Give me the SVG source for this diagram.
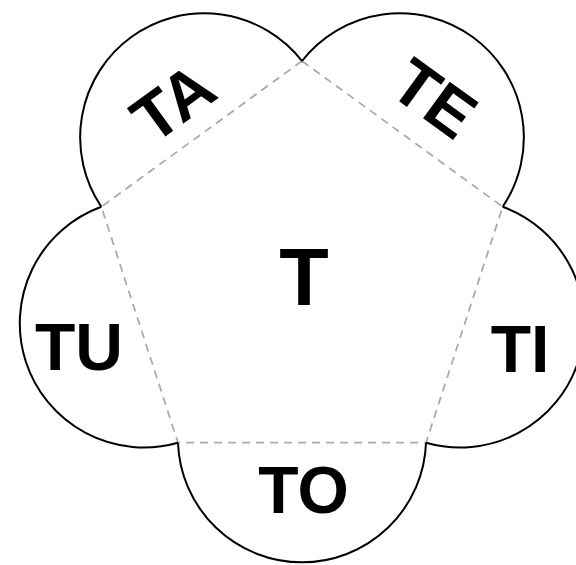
<svg xmlns="http://www.w3.org/2000/svg" width="576" height="565" viewBox="0 0 576 565">
<style>
.lobe{fill:none;stroke:#000;stroke-width:2}
.edge{fill:none;stroke:#a9a9a9;stroke-width:1.75;stroke-dasharray:8 6}
.lbl{font-family:"Liberation Sans",Arial,sans-serif;font-weight:bold;font-size:66px;fill:#000;text-anchor:middle}
</style>
<rect width="576" height="565" fill="#fff"/>
<g id="connectors">
<path class="edge" d="M302,61 L502.67,206.8 L426.02,442.7 L177.98,442.7 L101.33,206.8 Z"/>
</g>
<g id="node-T">
<text class="lbl" x="304" y="305" style="font-size:81px">T</text>
</g>
<g id="node-TE">
<path class="lobe" d="M302,61 A124.1,124.1 0 0 1 502.67,206.8"/>
<text class="lbl" transform="translate(435,97.5) rotate(36)" x="0" y="24">TE</text>
</g>
<g id="node-TI">
<path class="lobe" d="M502.67,206.8 A124.1,124.1 0 0 1 426.02,442.7"/>
<text class="lbl" x="520" y="371.5">TI</text>
</g>
<g id="node-TO">
<path class="lobe" d="M426.02,442.7 A124.1,124.1 0 0 1 177.98,442.7"/>
<text class="lbl" x="303.5" y="512.5">TO</text>
</g>
<g id="node-TU">
<path class="lobe" d="M177.98,442.7 A124.1,124.1 0 0 1 101.33,206.8"/>
<text class="lbl" x="79" y="369.5">TU</text>
</g>
<g id="node-TA">
<path class="lobe" d="M101.33,206.8 A124.1,124.1 0 0 1 302,61"/>
<text class="lbl" transform="translate(172.5,101.7) rotate(-36)" x="0" y="24">TA</text>
</g>
</svg>
